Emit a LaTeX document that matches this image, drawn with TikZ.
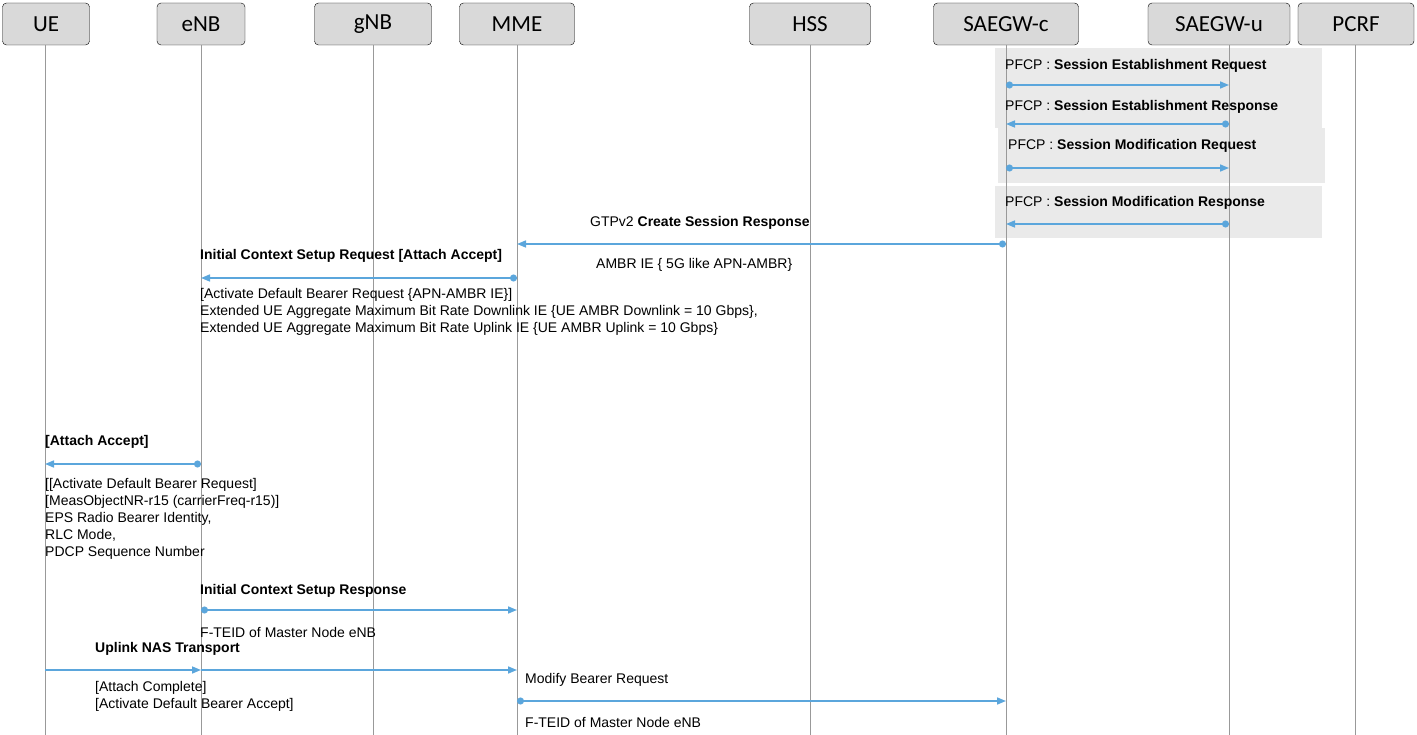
\documentclass[tikz,border=0pt]{standalone}
\usepackage{fontspec}
\setmainfont{Liberation Sans}
\newfontfamily\headfont{Carlito}
\usetikzlibrary{arrows.meta}
\definecolor{msgblue}{RGB}{91,166,220}
\definecolor{headgray}{RGB}{217,217,217}
\definecolor{boxgray}{RGB}{234,234,234}
\tikzset{
  head/.style={draw, rounded corners=4pt, fill=headgray, minimum height=42pt, font=\headfont\fontsize{23}{26}\selectfont, inner sep=0pt},
  life/.style={draw=gray!80, line width=0.8pt},
  msg/.style={draw=msgblue, line width=1.6pt, -{Triangle[length=9pt,width=7pt]}},
  start/.style={msg, {Circle[length=7pt]}-{Triangle[length=9pt,width=7pt]}},
  lbl/.style={anchor=west, inner sep=0pt, font=\fontsize{14}{17}\selectfont, align=left},
}
\newcommand{\msgline}[4][msg]{\draw[#1] (#2 |- 0,#4) -- (#3 |- 0,#4);}
\begin{document}
\begin{tikzpicture}[x=1pt,y=-1pt]
\useasboundingbox (0,0) rectangle (1417,735);
% shaded PFCP area
\fill[boxgray] (995,48) rectangle (1322,128);
\fill[boxgray] (998,128) rectangle (1325,183);
\fill[boxgray] (995,186) rectangle (1322,238);
% lifelines
\foreach \name/\x/\w/\txt in {ue/46/87/UE, enb/201/88/eNB, gnb/373/117/gNB, mme/517/115/MME, hss/810/121/HSS, sgwc/1006/145/SAEGW-c, sgwu/1219/142/SAEGW-u, pcrf/1356/116/PCRF} {
  \node[head, minimum width=\w pt] (\name) at (\x,24) {\txt};
}
\foreach \name/\x in {ue/45, enb/201, gnb/373, mme/517, hss/810, sgwc/1006, sgwu/1229, pcrf/1355} {
  \coordinate (\name-l) at (\x,45);
  \draw[life] (\name-l) -- (\x,735);
}
% PFCP
\node[lbl] (m1) at (1005,66) {PFCP : \textbf{Session Establishment Request}};
\msgline[start]{sgwc-l}{sgwu-l}{85}
\node[lbl] (m2) at (1005,107) {PFCP : \textbf{Session Establishment Response}};
\msgline[start]{sgwu-l}{sgwc-l}{124}
\node[lbl] (m3) at (1008,146) {PFCP : \textbf{Session Modification Request}};
\msgline[start]{sgwc-l}{sgwu-l}{168}
\node[lbl] (m4) at (1005,203) {PFCP : \textbf{Session Modification Response}};
\msgline[start]{sgwu-l}{sgwc-l}{224}
% create session
\node[lbl] (m5) at (590,223) {GTPv2 \textbf{Create Session Response}};
\msgline[start]{sgwc-l}{mme-l}{244}
\node[lbl] (m5b) at (596,265) {AMBR IE \{ 5G like APN-AMBR\}};
% initial context setup request
\node[lbl] (m6) at (200,256) {\textbf{Initial Context Setup Request [Attach Accept]}};
\msgline[start]{mme-l}{enb-l}{278}
\node[lbl, anchor=north west] (m6b) at (200,288) {{}[Activate Default Bearer Request \{APN-AMBR IE\}]\\
Extended UE Aggregate Maximum Bit Rate Downlink IE \{UE AMBR Downlink = 10 Gbps\},\\
Extended UE Aggregate Maximum Bit Rate Uplink IE \{UE AMBR Uplink = 10 Gbps\}};
% attach accept
\node[lbl] (m7) at (45,442) {\textbf{[Attach Accept]}};
\msgline[start]{enb-l}{ue-l}{464}
\node[lbl, anchor=north west] (m7b) at (45,478) {{}[[Activate Default Bearer Request]\\
{}[MeasObjectNR-r15 (carrierFreq-r15)]\\
EPS Radio Bearer Identity,\\
RLC Mode,\\
PDCP Sequence Number};
% initial context setup response
\node[lbl] (m8) at (200,591) {\textbf{Initial Context Setup Response}};
\msgline[start]{enb-l}{mme-l}{610}
\node[lbl] (m8b) at (200,632) {F-TEID of Master Node eNB};
% uplink NAS transport
\node[lbl] (m9) at (95,649) {\textbf{Uplink NAS Transport}};
\msgline{ue-l}{enb-l}{670}
\msgline{enb-l}{mme-l}{670}
\node[lbl, anchor=north west] (m9b) at (95,681) {{}[Attach Complete]\\{}[Activate Default Bearer Accept]};
% modify bearer
\node[lbl] (m10) at (525,680) {Modify Bearer Request};
\msgline[start]{mme-l}{sgwc-l}{701}
\node[lbl] (m10b) at (525,722) {F-TEID of Master Node eNB};
\end{tikzpicture}
\end{document}
